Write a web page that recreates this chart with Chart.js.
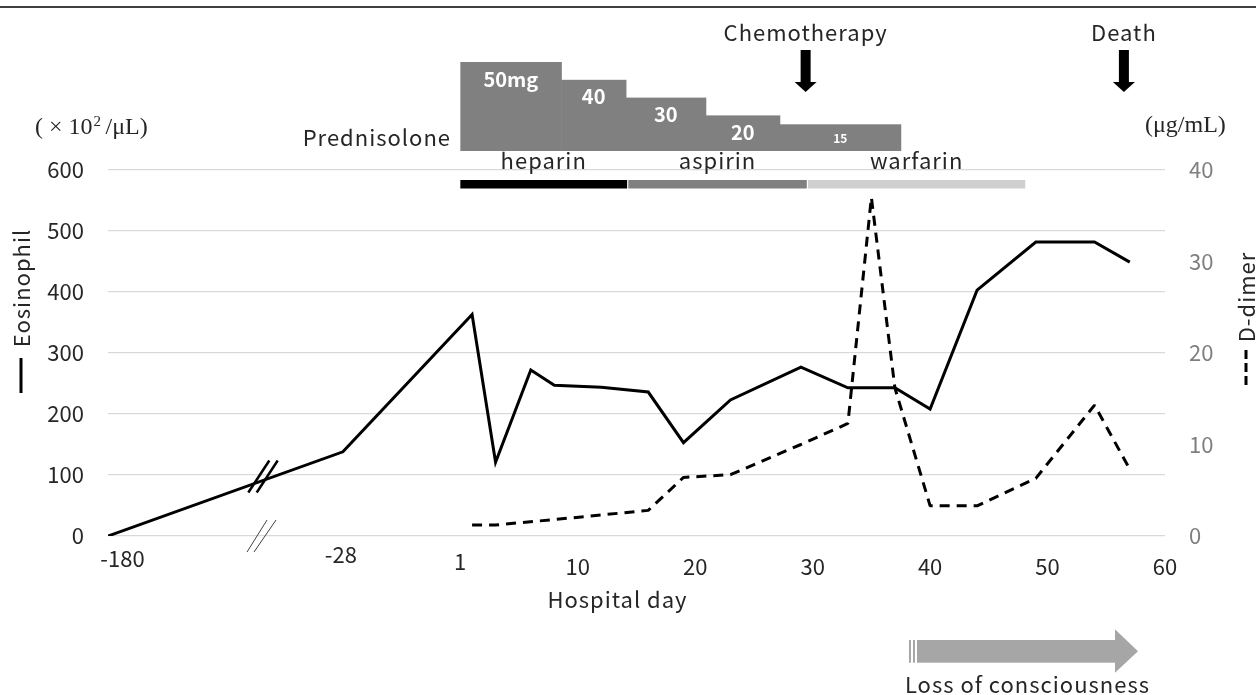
<!DOCTYPE html>
<html>
<head>
<meta charset="UTF-8">
<title>Eosinophil and D-dimer course</title>
<script src="https://cdn.jsdelivr.net/npm/chart.js@4.4.1/dist/chart.umd.min.js"></script>
<style>
  body { margin: 0; background: #fff; }
  #wrap { width: 1256px; height: 695px; }
</style>
</head>
<body>
<div id="wrap"><canvas id="courseChart" width="1256" height="695"></canvas></div>
<script>
// eosinophil (x10^2/uL) by hospital day, the two first days sit on the broken part of the axis
var eosDays = [-180, -28, 1, 3, 6, 8, 12, 16, 19, 23, 29, 33, 37, 40, 44, 49, 54, 57];
var eosValues = [0, 138, 363, 121, 272, 247, 244, 236, 153, 223, 277, 243, 243, 208, 403, 482, 482, 449];

// D-dimer (ug/mL)
var ddDays = [1, 3, 8, 12, 16, 19, 23, 29, 33, 35, 37, 40, 44, 49, 54, 57];
var ddValues = [1.2, 1.2, 1.8, 2.3, 2.8, 6.4, 6.7, 10, 12.3, 37.0, 16.2, 3.3, 3.3, 6.3, 14.3, 7.3];

var xTickDays = [-180, -28, 1, 10, 20, 30, 40, 50, 60];
var xTickLabels = ['-180', '-28', '1', '10', '20', '30', '40', '50', '60'];

// prednisolone steps (mg/day)
var predStartDays = [0, 8.6, 14.1, 20.9, 27.2];
var predEndDay = 37.5;
var predDoses = [50, 40, 30, 20, 15];

// anticoagulation
var anticoagNames = ['heparin', 'aspirin', 'warfarin'];
var anticoagStart = [0, 14.3, 29.6];
var anticoagEnd = [14.2, 29.5, 48.1];

var chemoDay = 29.4;
var deathDay = 56.5;
var locStartDay = 38.2;
var locEndDay = 57.7;

var FONT = '"Noto Sans CJK JP", "Noto Sans", sans-serif';
var SERIF = '"Liberation Serif", "DejaVu Serif", serif';
var TEXT = '#262626';

// broken axis: days before admission are squeezed into the left part
function toAxis(day) {
  if (day >= 0) return day;
  return -10 + (day + 28) * 20 / 152;
}

function downArrow(ctx, cx) {
  ctx.fillStyle = '#000';
  ctx.fillRect(cx - 5, 50, 10, 33);
  ctx.beginPath();
  ctx.moveTo(cx - 11, 82);
  ctx.lineTo(cx + 11, 82);
  ctx.lineTo(cx, 92);
  ctx.closePath();
  ctx.fill();
}

function slash(ctx, cx, cy, dx, dy) {
  ctx.beginPath();
  ctx.moveTo(cx - dx, cy + dy);
  ctx.lineTo(cx + dx, cy - dy);
  ctx.stroke();
}

var extras = {
  id: 'extras',
  afterDraw: function (chart) {
    var ctx = chart.ctx;
    var xs = chart.scales.x;
    var ys = chart.scales.y;
    var px = function (day) { return xs.getPixelForValue(toAxis(day)); };
    ctx.save();

    // frame line on top
    ctx.strokeStyle = '#404040';
    ctx.lineWidth = 2;
    ctx.beginPath();
    ctx.moveTo(0, 7);
    ctx.lineTo(1256, 7);
    ctx.stroke();

    // prednisolone steps
    ctx.fillStyle = '#808080';
    for (var i = 0; i < predDoses.length; i++) {
      var x0 = px(predStartDays[i]);
      var x1 = px(i + 1 < predDoses.length ? predStartDays[i + 1] : predEndDay);
      var h = predDoses[i] * 1.78;
      ctx.fillRect(x0, 151 - h, x1 - x0 + 0.5, h);
    }
    ctx.fillStyle = '#fff';
    ctx.textAlign = 'center';
    ctx.textBaseline = 'middle';
    for (var i = 0; i < predDoses.length; i++) {
      var x0 = px(predStartDays[i]);
      var x1 = px(i + 1 < predDoses.length ? predStartDays[i + 1] : predEndDay);
      var h = predDoses[i] * 1.78;
      ctx.font = (i === predDoses.length - 1 ? 'bold 12px ' : 'bold 20px ') + FONT;
      ctx.fillText(predDoses[i] + (i === 0 ? 'mg' : ''), (x0 + x1) / 2, 151 - h + (i === predDoses.length - 1 ? 14 : 17));
    }

    ctx.letterSpacing = '1px';
    ctx.fillStyle = TEXT;
    ctx.font = '22px ' + FONT;
    ctx.textAlign = 'right';
    ctx.fillText('Prednisolone', 451, 138);

    // anticoagulant bars
    var barColors = ['#000000', '#808080', '#cfcfcf'];
    ctx.textAlign = 'center';
    for (var i = 0; i < anticoagNames.length; i++) {
      var a = px(anticoagStart[i]);
      var b = px(anticoagEnd[i]);
      ctx.fillStyle = barColors[i];
      ctx.fillRect(a, 180, b - a, 8.5);
      ctx.fillStyle = TEXT;
      ctx.fillText(anticoagNames[i], (a + b) / 2, 161);
    }

    // event arrows
    downArrow(ctx, px(chemoDay));
    downArrow(ctx, px(deathDay));
    ctx.fillStyle = TEXT;
    ctx.fillText('Chemotherapy', px(chemoDay), 33);
    ctx.fillText('Death', px(deathDay), 33);

    // loss of consciousness arrow
    var l0 = px(locStartDay);
    var l1 = px(locEndDay);
    ctx.fillStyle = '#a6a6a6';
    ctx.fillRect(l0, 640, 2, 22.7);
    ctx.fillRect(l0 + 4, 640, 2, 22.7);
    ctx.fillRect(l0 + 8, 640, l1 - 23 - l0 - 8, 22.7);
    ctx.beginPath();
    ctx.moveTo(l1 - 23, 629.3);
    ctx.lineTo(l1, 651.3);
    ctx.lineTo(l1 - 23, 672.7);
    ctx.closePath();
    ctx.fill();
    ctx.fillStyle = TEXT;
    ctx.fillText('Loss of consciousness', (l0 + l1) / 2 + 4, 685);

    // axis title
    ctx.fillText('Hospital day', (chart.chartArea.left + chart.chartArea.right) / 2 - 19, 600);

    // hand placed x labels on the broken part
    ctx.letterSpacing = '0px';
    var nudge = [[14.5, -8], [-2, -11.5], [-12, -5]];
    for (var i = 0; i < 3; i++) {
      ctx.fillText(xTickLabels[i], px(xTickDays[i]) + nudge[i][0], 566.5 + nudge[i][1]);
    }

    // units
    ctx.font = '24px ' + SERIF;
    ctx.textAlign = 'left';
    ctx.fillText('( \u00d7 10', 35, 128);
    var w = ctx.measureText('( \u00d7 10').width;
    ctx.font = '15px ' + SERIF;
    ctx.fillText('2', 35 + w + 1, 122);
    ctx.font = '24px ' + SERIF;
    ctx.fillText(' /\u03bcL)', 35 + w + 7, 128);
    ctx.fillText('(\u03bcg/mL)', 1145, 126);

    // vertical titles with line samples
    ctx.letterSpacing = '1px';
    ctx.font = '22px ' + FONT;
    ctx.textAlign = 'center';
    ctx.save();
    ctx.translate(22, 288);
    ctx.rotate(-Math.PI / 2);
    ctx.fillText('Eosinophil', 0, 0);
    ctx.restore();
    ctx.save();
    ctx.translate(1247, 297);
    ctx.rotate(-Math.PI / 2);
    ctx.fillText('D-dimer', 0, 0);
    ctx.restore();
    ctx.letterSpacing = '0px';

    ctx.strokeStyle = '#000';
    ctx.lineWidth = 3;
    ctx.beginPath();
    ctx.moveTo(21, 358);
    ctx.lineTo(21, 393);
    ctx.stroke();
    ctx.setLineDash([9, 4]);
    ctx.beginPath();
    ctx.moveTo(1246, 350);
    ctx.lineTo(1246, 388);
    ctx.stroke();
    ctx.setLineDash([]);

    // break marks on the line and on the axis
    var bx = xs.getPixelForValue(-16.8);
    var p0x = px(eosDays[0]), p0y = ys.getPixelForValue(eosValues[0]);
    var p1x = px(eosDays[1]), p1y = ys.getPixelForValue(eosValues[1]);
    var by = p0y + (p1y - p0y) * (bx - p0x) / (p1x - p0x) - 4;
    ctx.lineWidth = 2.5;
    slash(ctx, bx - 4.2, by, 10.5, 16);
    slash(ctx, bx + 4.2, by, 10.5, 16);
    ctx.lineWidth = 1;
    ctx.strokeStyle = '#404040';
    slash(ctx, bx - 6, ys.getPixelForValue(0), 10, 16);
    slash(ctx, bx + 2, ys.getPixelForValue(0), 11, 16);

    ctx.restore();
  }
};

var ctx = document.getElementById('courseChart').getContext('2d');
var courseChart = new Chart(ctx, {
  type: 'line',
  data: {
    datasets: [{
      label: 'Eosinophil',
      data: eosDays.map(function (d, i) { return { x: toAxis(d), y: eosValues[i] }; }),
      borderColor: '#000',
      borderWidth: 3,
      borderJoinStyle: 'miter',
      pointRadius: 0,
      tension: 0,
      yAxisID: 'y'
    }, {
      label: 'D-dimer',
      data: ddDays.map(function (d, i) { return { x: toAxis(d), y: ddValues[i] }; }),
      borderColor: '#000',
      borderWidth: 3,
      borderDash: [10, 7],
      borderJoinStyle: 'bevel',
      pointRadius: 0,
      tension: 0,
      yAxisID: 'y2'
    }]
  },
  options: {
    responsive: false,
    animation: false,
    layout: { padding: { left: 8, right: 31, top: 170, bottom: 99 } },
    plugins: { legend: { display: false }, tooltip: { enabled: false } },
    scales: {
      x: {
        type: 'linear',
        min: -30,
        max: 60,
        grid: { display: false, drawTicks: false },
        border: { display: false },
        afterBuildTicks: function (scale) {
          scale.ticks = xTickDays.filter(function (d) { return d >= 10; }).map(function (d) { return { value: toAxis(d) }; });
        },
        afterFit: function (scale) { scale.height = 60; },
        ticks: {
          padding: 17,
          color: TEXT,
          maxRotation: 0,
          autoSkip: false,
          font: { family: FONT, size: 22 },
          callback: function (value) { return xTickLabels[xTickDays.indexOf(value)]; }
        }
      },
      y: {
        position: 'left',
        min: 0,
        max: 600,
        grid: { color: '#d9d9d9', lineWidth: 1.3, drawTicks: false },
        border: { display: false },
        afterFit: function (scale) { scale.width = 100; },
        ticks: { stepSize: 100, padding: 24, color: TEXT, font: { family: FONT, size: 22 } }
      },
      y2: {
        position: 'right',
        min: 0,
        max: 40,
        grid: { display: false, drawTicks: false },
        border: { display: false },
        afterFit: function (scale) { scale.width = 60; },
        ticks: { stepSize: 10, padding: 24, color: '#7f7f7f', font: { family: FONT, size: 22 } }
      }
    }
  },
  plugins: [extras]
});
</script>
</body>
</html>
